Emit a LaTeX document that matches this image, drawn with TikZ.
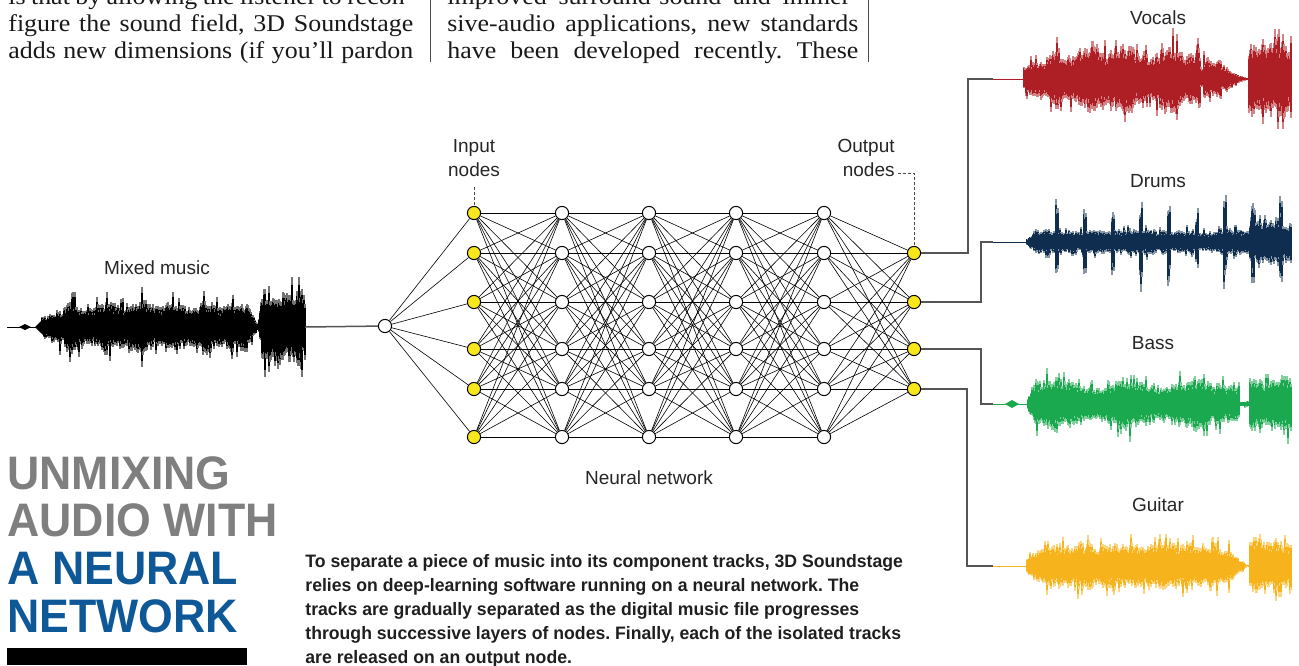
\documentclass[tikz,border=0pt]{standalone}
\usepackage{fontspec}
\setmainfont[FakeStretch=1.08]{Liberation Serif}
\setsansfont{Liberation Sans}
\newfontfamily\blurbfont[FakeStretch=0.98]{Liberation Sans}
\newfontfamily\titlefont[FakeStretch=0.95]{Liberation Sans}
\usetikzlibrary{positioning,calc}
\frenchspacing

\definecolor{vocalred}{HTML}{AE1F25}
\definecolor{drumblue}{HTML}{0F2E4F}
\definecolor{bassgreen}{HTML}{1BA94F}
\definecolor{guitaryellow}{HTML}{F6B31C}
\definecolor{nodeyellow}{HTML}{F8E71C}
\definecolor{titlegray}{HTML}{7F7F80}
\definecolor{titleblue}{HTML}{0F5897}
\definecolor{wiregray}{HTML}{555555}

% justified line of the article columns
\newcommand\jline[2]{\makebox[#1][s]{\spaceskip=.25em plus 1em minus .1em #2}}

% one waveform: main colour, fringe colour, from, to, centre, envelope, seed
\newcommand\wavetrack[7]{%
  \pgfmathsetseed{#7}
  \gdef\lastmod{0.85}
  \foreach \x in {#3,...,#4}{
    \pgfmathsetmacro\env{#6(\x)}
    \pgfmathsetmacro\wmod{0.85*\lastmod+0.15*(0.35+1.0*rnd)}
    \xdef\lastmod{\wmod}
    \pgfmathsetmacro\up{min(\env*\wmod*(0.65+0.35*rnd)*ifthenelse(rnd>0.88,1.25+0.35*rnd,1),1.25*\env)}
    \pgfmathsetmacro\dn{min(\env*\wmod*(0.65+0.35*rnd)*ifthenelse(rnd>0.88,1.25+0.35*rnd,1),1.25*\env)}
    \draw[#2, line width=0.6pt] (\x,{#5-\up}) -- (\x,{#5+\dn});
    \draw[#1, line width=0.6pt] (\x,{#5-0.85*\up}) -- (\x,{#5+0.85*\dn});
  }}

\tikzset{
  neuron/.style={draw, circle, fill=white, inner sep=0pt, minimum size=6.6pt, line width=0.5pt},
  inout/.style={neuron, fill=nodeyellow},
  synapse/.style={line width=0.3pt},
  wire/.style={wiregray, line width=0.75pt},
  leader/.style={dash pattern=on 1.5pt off 1pt, line width=0.3pt, black!70},
  tag/.style={font=\sffamily\fontsize{9.5}{12}\selectfont, inner sep=0pt, text=black!85},
  headline/.style={font=\titlefont\bfseries\fontsize{23.5}{24}\selectfont, inner sep=0pt, anchor=base west},
  blurb/.style={font=\blurbfont\bfseries\fontsize{9}{12}\selectfont, inner sep=0pt, align=left, text=black!88},
  column/.style={font=\fontsize{12}{13.5}\selectfont, inner sep=0pt, anchor=base west, text=black!90},
}

\begin{document}
\begin{tikzpicture}[x=0.5pt, y=-0.5pt,
  declare function={
    envmix(\t)=ifthenelse(\t<60,12+0.8*(\t-42),ifthenelse(\t<248,28+3*sin(\t*11)+2*sin(\t*3),ifthenelse(\t<258,2+24*(258-\t)/10,ifthenelse(\t<264,2+6*(\t-258),40))));
    envvoc(\t)=ifthenelse(\t<1060,14+22*(\t-1024)/36,ifthenelse(\t<1201,36+5*sin(\t*9),ifthenelse(\t<1204,12,ifthenelse(\t<1222,25,ifthenelse(\t<1247,1+14*(1247-\t)/25,ifthenelse(\t<1249,1,40))))));
    envdrum(\t)=ifthenelse(\t<1034,4+(\t-1027),ifthenelse(\t<1250,14,26))+28*(abs(mod(\t-1043,28)-14)<1.5);
    envbass(\t)=ifthenelse(\t<1036,8+2*(\t-1028),ifthenelse(\t<1240,26+5*sin((\t-1035)*5),ifthenelse(\t<1250,3,32)));
    envguit(\t)=ifthenelse(\t<1045,10+0.9*(\t-1027),ifthenelse(\t<1225,26,ifthenelse(\t<1247,1+25*(1247-\t)/22,ifthenelse(\t<1250,1,32))));
  }]
  \useasboundingbox (0,0) rectangle (1299,665);
  \clip (0,0) rectangle (1299,665);

  % article columns above
  \node[column] (cola1) at (8,4) {\jline{202.5pt}{is that by allowing the listener to recon-}};
  \node[column] (cola2) at (8,31) {\jline{202.5pt}{figure the sound field, 3D Soundstage}};
  \node[column] (cola3) at (8,58) {\jline{202.5pt}{adds new dimensions (if you'll pardon}};
  \node[column] (colb1) at (447,4) {\jline{205.5pt}{improved surround-sound and immer-}};
  \node[column] (colb2) at (447,31) {\jline{205.5pt}{sive-audio applications, new standards}};
  \node[column] (colb3) at (447,58) {\jline{205.5pt}{have been developed recently. These}};
  \draw[line width=0.4pt, black!70] (430,0) -- (430,62);
  \draw[line width=0.4pt, black!70] (868,0) -- (868,62);

  % mixed input
  \draw[black, line width=0.5pt] (7,327) -- (42,327);
  \fill[black] (19,327) -- (25,324) -- (31,327) -- (25,330) -- cycle;
  \fill[black] (35,327) -- (42,320) -- (42,334) -- cycle;
  \wavetrack{black}{black!55}{42}{305}{327}{envmix}{11}
  \coordinate (mixend) at (305,327);

  % separated tracks
  \coordinate (vocin) at (993,79);
  \coordinate (drumin) at (993,242);
  \coordinate (bassin) at (993,404);
  \coordinate (guitin) at (993,566);
  \draw[vocalred, line width=0.5pt] (vocin) -- (1024,79);
  \draw[drumblue, line width=0.5pt] (drumin) -- (1027,242);
  \draw[bassgreen, line width=0.5pt] (bassin) -- (1028,404);
  \fill[bassgreen] (1005,404) -- (1012,400) -- (1019,404) -- (1012,408) -- cycle;
  \draw[guitaryellow, line width=0.5pt] (guitin) -- (1027,566);
  \wavetrack{vocalred}{vocalred!55}{1024}{1291}{79}{envvoc}{3}
  \wavetrack{drumblue}{drumblue!50}{1027}{1291}{242}{envdrum}{5}
  \wavetrack{bassgreen}{bassgreen!55}{1028}{1291}{404}{envbass}{7}
  \wavetrack{guitaryellow}{guitaryellow!55}{1027}{1291}{566}{envguit}{9}

  \node[tag] (mixlbl) at (157,268) {Mixed music};
  \node[tag] (vocallbl) at (1158,18) {Vocals};
  \node[tag] (drumlbl) at (1158,181) {Drums};
  \node[tag] (basslbl) at (1153,343) {Bass};
  \node[tag] (guitlbl) at (1158,505) {Guitar};

  % neural network
  \node[neuron] (mix) at (385,326) {};
  \foreach \y [count=\i] in {213,253,302,349,389,437}{
    \node[inout] (l0-\i) at (474,\y) {};
    \foreach \l/\xx in {1/562,2/649,3/736,4/824}
      \node[neuron] (l\l-\i) at (\xx,\y) {};
  }
  \foreach \y [count=\i] in {253,302,349,389}
    \node[inout] (out-\i) at (914,\y) {};

  \foreach \i in {1,...,6}
    \draw[synapse] (mix) -- (l0-\i);
  \foreach \l [evaluate=\l as \n using int(\l+1)] in {0,...,3}
    \foreach \i in {1,...,6}
      \foreach \j in {1,...,6}
        \draw[synapse] (l\l-\i) -- (l\n-\j);
  \foreach \i in {1,...,6}
    \foreach \j in {1,...,4}
      \draw[synapse] (l4-\i) -- (out-\j);

  \draw[wire] (mixend) -- (mix);
  \draw[wire] (out-1) -- ++(54,0) |- (vocin);
  \draw[wire] (out-2) -- ++(67,0) |- (drumin);
  \draw[wire] (out-3) -- ++(67,0) |- (bassin);
  \draw[wire] (out-4) -- ++(53,0) |- (guitin);

  \node[tag, align=center] (inlbl) at (474,158) {Input\\nodes};
  \node[tag, align=right, anchor=east] (outlbl) at (895,158) {Output\\nodes};
  \draw[leader] ([shift={(0,10)}]inlbl.south) -- (l0-1);
  \draw[leader] ([shift={(3,-4)}]outlbl.south east) -| (out-1);
  \node[tag] (netlbl) at (649,478) {Neural network};

  % headline and caption
  \node[headline, text=titlegray] (head1) at (7,489) {UNMIXING};
  \node[headline, text=titlegray] (head2) at (7,536) {AUDIO WITH};
  \node[headline, text=titleblue] (head3) at (7,584) {A NEURAL};
  \node[headline, text=titleblue] (head4) at (7,632) {NETWORK};
  \fill[black] (7,648) rectangle (247,665);

  \node[blurb, anchor=north west] (caption) at (305,554) {To separate a piece of music into its component tracks, 3D Soundstage\\
    relies on deep-learning software running on a neural network. The\\
    tracks are gradually separated as the digital music file progresses\\
    through successive layers of nodes. Finally, each of the isolated tracks\\
    are released on an output node.};
\end{tikzpicture}
\end{document}
